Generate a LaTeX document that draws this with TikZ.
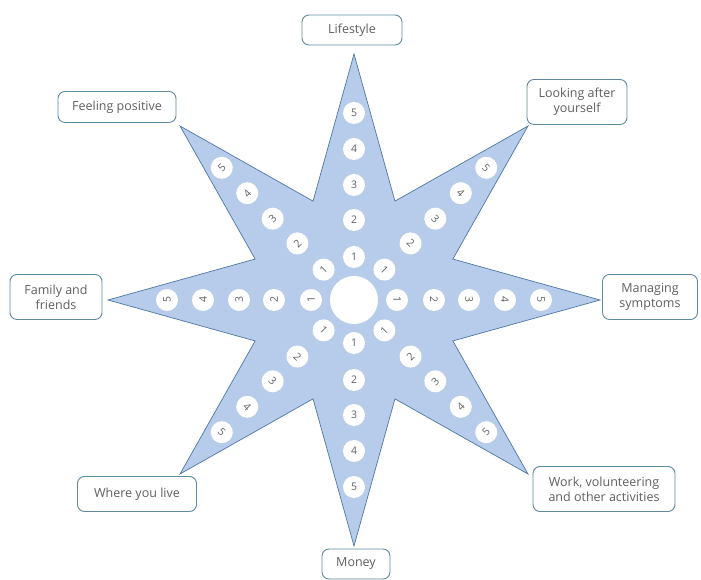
\documentclass[tikz,border=0pt]{standalone}
\usepackage{fontspec}
\setmainfont{Open Sans}
\usetikzlibrary{calc}
\definecolor{starfill}{RGB}{183,204,234}
\definecolor{starline}{RGB}{78,118,165}
\definecolor{boxline}{RGB}{92,138,160}
\definecolor{txt}{RGB}{95,95,95}
\begin{document}
\begin{tikzpicture}[x=1pt,y=1pt,
  lbl/.style={draw=boxline, line width=0.9pt, rounded corners=7pt, fill=white,
    text=txt, align=center, inner sep=0pt, font=\fontsize{12.5}{15}\selectfont},
  num/.style={circle, fill=white, minimum size=22pt, inner sep=0pt, text=txt,
    font=\fontsize{10.5}{10.5}\selectfont},
  starshape/.style={fill=starfill, draw=starline, line width=0.7pt, line join=miter}]
\useasboundingbox (0,0) rectangle (701,580);
\coordinate (C) at (354,280);
\foreach \k in {0,...,15}{
  \pgfmathsetmacro\rr{mod(\k,2)==0 ? 246 : 107}
  \coordinate (s\k) at ($(C)+({90+22.5*\k}:\rr)$);
}
\path[starshape] (s0) -- (s1) -- (s2) -- (s3) -- (s4) -- (s5) -- (s6) -- (s7) -- (s8)
  -- (s9) -- (s10) -- (s11) -- (s12) -- (s13) -- (s14) -- (s15) -- cycle;
\node[circle, fill=white, minimum size=48pt, inner sep=0pt] (hub) at (C) {};
\foreach \a/\rot in {90/0, 45/-45, 0/-90, 315/45, 270/0, 225/-45, 180/90, 135/45}{
  \foreach \n/\d in {1/43, 2/80, 3/115, 4/151, 5/187}{
    \node[num, rotate=\rot] (n\a-\n) at ($(C)+(\a:\d)$) {\n};
  }
}
\node[lbl, minimum width=100pt, minimum height=30pt] (lifestyle) at (352,550) {Lifestyle};
\node[lbl, minimum width=118pt, minimum height=31pt] (feeling) at (117,473) {Feeling positive};
\node[lbl, minimum width=100pt, minimum height=45pt] (looking) at (577,478) {Looking after\\yourself};
\node[lbl, minimum width=92pt, minimum height=45pt] (family) at (56,283) {Family and\\friends};
\node[lbl, minimum width=95pt, minimum height=45pt] (managing) at (650,283) {Managing\\symptoms};
\node[lbl, minimum width=119pt, minimum height=35pt] (where) at (137,86) {Where you live};
\node[lbl, minimum width=142pt, minimum height=45pt] (work) at (604,91) {Work, volunteering\\and other activities};
\node[lbl, minimum width=68pt, minimum height=30pt] (money) at (356,16) {Money};
\end{tikzpicture}
\end{document}
